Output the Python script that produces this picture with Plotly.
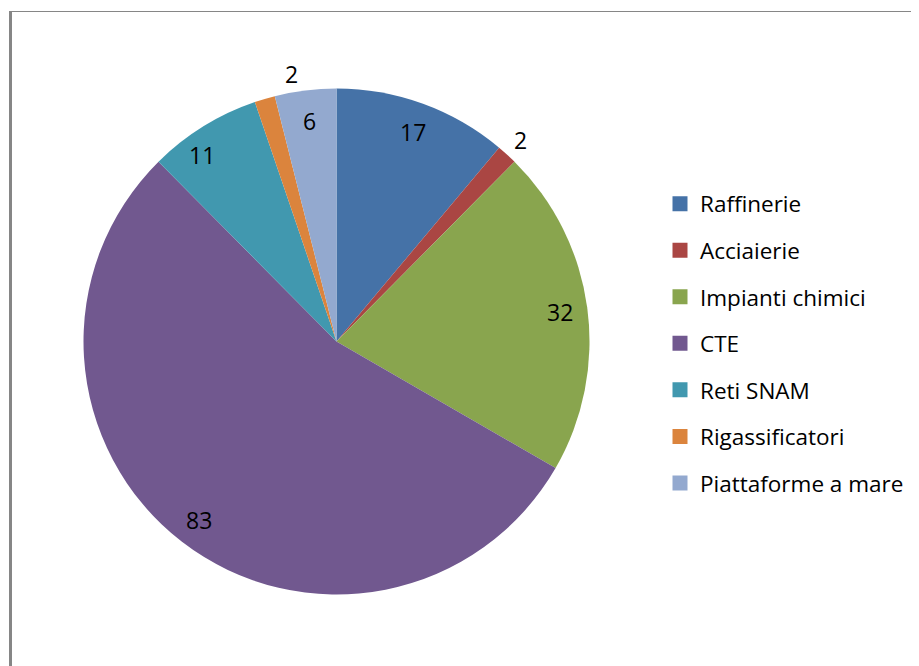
import math
import plotly.graph_objects as go

# ---- data ----
categories = ["Raffinerie", "Acciaierie", "Impianti chimici", "CTE",
              "Reti SNAM", "Rigassificatori", "Piattaforme a mare"]
values = [17, 2, 32, 83, 11, 2, 6]
colors = ["#4572A7", "#AA4643", "#89A54E", "#71588F",
          "#4198AF", "#DB843D", "#93A9CF"]

# label placement style (fraction of radius, small angle nudges)
label_radius = [0.88, 1.08, 0.89, 0.89, 0.91, 1.07, 0.88]
label_nudge_deg = [0, 0, 0, 0, -4, 7, 0]

W, H = 919, 666
OFF = 8  # page body margin
CX, CY, R = 336.5 - OFF, 341.5 - OFF, 253.0
FONT = "Open Sans, Liberation Sans, Arial, sans-serif"

fig = go.Figure()
fig.add_trace(go.Pie(
    labels=categories, values=values, sort=False, direction="clockwise",
    rotation=0, marker=dict(colors=colors, line=dict(width=0)),
    textinfo="none", showlegend=False, hoverinfo="label+value",
    domain=dict(x=[(CX - R) / W, (CX + R) / W],
                y=[1 - (CY + R) / H, 1 - (CY - R) / H]),
))

# legend entries (one group each so spacing can match)
for i, (c, col) in enumerate(zip(categories, colors)):
    fig.add_trace(go.Scatter(
        x=[None], y=[None], mode="markers", name=c, legendgroup=f"g{i}",
        marker=dict(symbol="square", size=15, color=col, line=dict(width=0)),
        showlegend=True, hoverinfo="skip"))

# data labels computed from the values
total = sum(values)
annotations = []
cum = 0
for i, v in enumerate(values):
    mid = (cum + v / 2) / total * 360 + label_nudge_deg[i]
    cum += v
    rr = label_radius[i] * R
    px = CX + rr * math.sin(math.radians(mid))
    py = CY - rr * math.cos(math.radians(mid))
    annotations.append(dict(x=px / W, y=1 - py / H, xref="paper", yref="paper",
                            text=str(v), showarrow=False,
                            font=dict(family=FONT, size=23, color="black"),
                            xanchor="center", yanchor="middle"))

fig.update_layout(
    width=W, height=H, margin=dict(l=0, r=0, t=0, b=0),
    paper_bgcolor="white", plot_bgcolor="white",
    xaxis=dict(visible=False), yaxis=dict(visible=False),
    showlegend=True,
    legend=dict(x=652 / W, y=1 - 174.5 / H, xanchor="left", yanchor="top",
                font=dict(family=FONT, size=22.5, color="black"),
                tracegroupgap=14.3, bgcolor="rgba(0,0,0,0)"),
    annotations=annotations,
    shapes=[
        dict(type="line", xref="paper", yref="paper",
             x0=(10.5 - OFF) / W, x1=(10.5 - OFF) / W, y0=-0.02,
             y1=1 - (11 - OFF) / H,
             line=dict(color="#868686", width=3)),
        dict(type="line", xref="paper", yref="paper",
             x0=(9 - OFF) / W, x1=1.01, y0=1 - (11.5 - OFF) / H,
             y1=1 - (11.5 - OFF) / H,
             line=dict(color="#868686", width=1)),
    ],
)

fig.write_html("out.html")
